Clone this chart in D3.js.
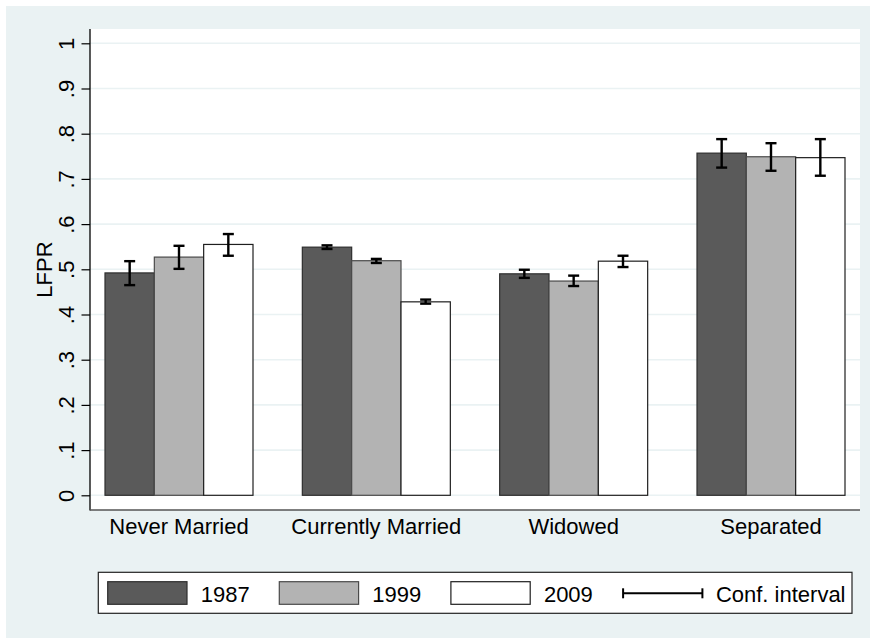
<!DOCTYPE html>
<html>
<head>
<meta charset="utf-8">
<script src="https://cdn.jsdelivr.net/npm/d3@7"></script>
<style>
  html, body { margin: 0; padding: 0; background: #ffffff; }
  svg { display: block; font-family: "Liberation Sans", Arial, sans-serif; }
</style>
</head>
<body>
<svg id="chart" width="870" height="638"></svg>
<script>
// Labour force participation rate by marital status, three survey years
const categories = ["Never Married", "Currently Married", "Widowed", "Separated"];
const years = ["1987", "1999", "2009"];
const lfpr1987 = [0.492, 0.549, 0.490, 0.757];
const lfpr1999 = [0.527, 0.519, 0.474, 0.749];
const lfpr2009 = [0.555, 0.428, 0.518, 0.747];
const ciLow1987 = [0.465, 0.545, 0.481, 0.725];
const ciHigh1987 = [0.518, 0.553, 0.499, 0.788];
const ciLow1999 = [0.501, 0.514, 0.463, 0.718];
const ciHigh1999 = [0.552, 0.523, 0.486, 0.779];
const ciLow2009 = [0.530, 0.424, 0.505, 0.707];
const ciHigh2009 = [0.578, 0.433, 0.530, 0.788];
const yTicks = [0, 0.1, 0.2, 0.3, 0.4, 0.5, 0.6, 0.7, 0.8, 0.9, 1];
const yTickLabels = ["0", ".1", ".2", ".3", ".4", ".5", ".6", ".7", ".8", ".9", "1"];
const yTitle = "LFPR";
const ciLabel = "Conf. interval";

const fills = ["#5a5a5a", "#b3b3b3", "#ffffff"];
const strokes = ["#2e2e2e", "#4a4a4a", "#1e1e1e"];
const bg = "#eaf2f3";

const series = [lfpr1987, lfpr1999, lfpr2009];
const lows = [ciLow1987, ciLow1999, ciLow2009];
const highs = [ciHigh1987, ciHigh1999, ciHigh2009];

const rows = [];
categories.forEach((c, i) => {
  years.forEach((yr, j) => {
    rows.push({cat: c, year: yr, s: j, v: series[j][i], lo: lows[j][i], hi: highs[j][i]});
  });
});

const svg = d3.select("#chart");

// graph region background
svg.append("rect").attr("x", 6).attr("y", 6).attr("width", 864).attr("height", 632).attr("fill", bg);

// plot region
const plot = {left: 90, right: 860, top: 29, bottom: 510};
svg.append("rect")
  .attr("x", plot.left).attr("y", plot.top)
  .attr("width", plot.right - plot.left).attr("height", plot.bottom - plot.top)
  .attr("fill", "#ffffff");

const y = d3.scaleLinear().domain([0, 1]).range([495.3, 43.3]);
const x0 = d3.scaleBand().domain(categories).range([105, 845]).paddingInner(0.25).paddingOuter(0);
const x1 = d3.scaleBand().domain(years).range([0, x0.bandwidth()]).padding(0);

// gridlines
svg.append("g").selectAll("line").data(yTicks).join("line")
  .attr("x1", plot.left).attr("x2", plot.right)
  .attr("y1", d => y(d)).attr("y2", d => y(d))
  .attr("stroke", bg).attr("stroke-width", 1.6);

// y axis
const yAxis = d3.axisLeft(y).tickValues(yTicks)
  .tickFormat((d, i) => yTickLabels[i]).tickSize(8.5).tickPadding(0).tickSizeOuter(0);
const gy = svg.append("g").attr("transform", `translate(${plot.left},0)`).call(yAxis);
gy.select(".domain").remove();
gy.selectAll(".tick line").attr("stroke", "#000").attr("stroke-width", 1.2);
gy.selectAll(".tick text")
  .attr("x", null).attr("dy", null)
  .attr("transform", "translate(-16.5,0) rotate(-90)")
  .attr("text-anchor", "middle")
  .attr("font-size", 22).attr("fill", "#000");
svg.append("line")
  .attr("x1", plot.left).attr("x2", plot.left)
  .attr("y1", plot.top).attr("y2", plot.bottom + 0.6)
  .attr("stroke", "#000").attr("stroke-width", 1.3);

// y title
svg.append("text")
  .attr("transform", `translate(51.7,${(plot.top + plot.bottom) / 2}) rotate(-90)`)
  .attr("text-anchor", "middle").attr("font-size", 22).attr("fill", "#000")
  .text(yTitle);

// x axis
const xAxis = d3.axisBottom(x0).tickSize(0).tickPadding(0);
const gx = svg.append("g").attr("transform", `translate(0,${plot.bottom})`).call(xAxis);
gx.select(".domain").remove();
gx.selectAll(".tick text").attr("y", 24).attr("dy", null)
  .attr("font-size", 22).attr("fill", "#000");
svg.append("line")
  .attr("x1", plot.left).attr("x2", plot.right)
  .attr("y1", plot.bottom).attr("y2", plot.bottom)
  .attr("stroke", "#555").attr("stroke-width", 1.3);

// bars
svg.append("g").selectAll("rect").data(rows).join("rect")
  .attr("x", d => x0(d.cat) + x1(d.year))
  .attr("y", d => y(d.v))
  .attr("width", x1.bandwidth())
  .attr("height", d => y(0) - y(d.v))
  .attr("fill", d => fills[d.s])
  .attr("stroke", d => strokes[d.s])
  .attr("stroke-width", 1.2);

// confidence intervals
const cap = 5.5;
const ci = svg.append("g").attr("stroke", "#000").attr("stroke-width", 2.4);
rows.forEach(d => {
  const cx = x0(d.cat) + x1(d.year) + x1.bandwidth() / 2;
  ci.append("line").attr("x1", cx).attr("x2", cx).attr("y1", y(d.lo)).attr("y2", y(d.hi));
  ci.append("line").attr("x1", cx - cap).attr("x2", cx + cap).attr("y1", y(d.lo)).attr("y2", y(d.lo));
  ci.append("line").attr("x1", cx - cap).attr("x2", cx + cap).attr("y1", y(d.hi)).attr("y2", y(d.hi));
});

// legend
const lg = svg.append("g");
lg.append("rect").attr("x", 98.3).attr("y", 572.3).attr("width", 753.7).attr("height", 41)
  .attr("fill", "#ffffff").attr("stroke", "#222").attr("stroke-width", 1.2);
const step = 171.6;
years.forEach((yr, j) => {
  const lx = 107.7 + j * step;
  lg.append("rect").attr("x", lx).attr("y", 581.7).attr("width", 79.3).attr("height", 22.6)
    .attr("fill", fills[j]).attr("stroke", strokes[j]).attr("stroke-width", 1.2);
  lg.append("text").attr("x", lx + 93).attr("y", 601.5)
    .attr("font-size", 22).attr("fill", "#000").text(yr);
});
const cx0 = 107.7 + 3 * step + 0.6;
const cx1 = cx0 + 79.3;
lg.append("line").attr("x1", cx0).attr("x2", cx1).attr("y1", 593.3).attr("y2", 593.3)
  .attr("stroke", "#000").attr("stroke-width", 2);
[cx0, cx1].forEach(px => {
  lg.append("line").attr("x1", px).attr("x2", px).attr("y1", 588.3).attr("y2", 598.3)
    .attr("stroke", "#000").attr("stroke-width", 2);
});
lg.append("text").attr("x", cx1 + 13.5).attr("y", 601.5)
  .attr("font-size", 22).attr("fill", "#000").text(ciLabel);
</script>
</body>
</html>
